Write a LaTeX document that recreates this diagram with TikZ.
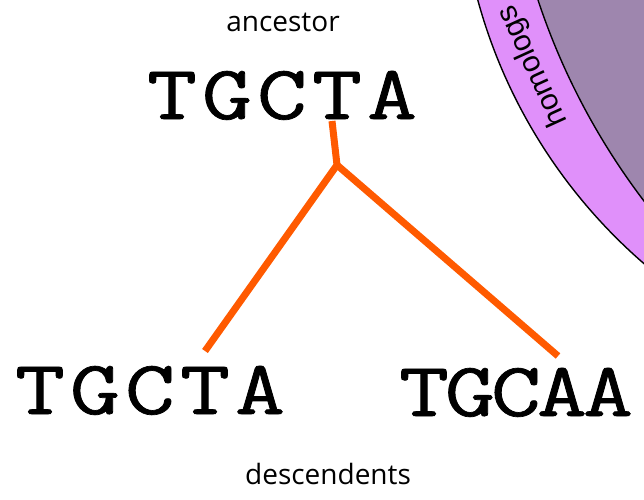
\documentclass[tikz,border=0pt]{standalone}
\usepackage{graphicx}
\usepackage{fontspec}
\setmainfont{Open Sans}
\newfontfamily\seqfont[FakeBold=0.9]{Latin Modern Mono}
\newfontfamily\ringfont{Liberation Sans}
\definecolor{ringpink}{HTML}{E090FA}
\definecolor{corepurple}{HTML}{9E86AE}
\definecolor{branch}{HTML}{FF5A00}
% letters of a sequence, widened and set on a fixed pitch
\newcommand{\pitched}[1]{\makebox[55pt]{\scalebox{1.26}[1]{#1}}}
\newcommand{\tight}[1]{\makebox[46pt]{\scalebox{1.26}[1]{#1}}}
\begin{document}
\begin{tikzpicture}[x=1pt,y=-1pt,
  seq/.style={font=\seqfont\fontsize{77}{79}\selectfont, inner sep=0pt, anchor=base},
  label/.style={font=\fontsize{28}{30}\selectfont, inner sep=0pt, anchor=base},
  edge/.style={draw=branch, line width=7pt},
  ringline/.style={draw=black, line width=1.4pt}]
\useasboundingbox (0,0) rectangle (644,499);
\fill[white] (0,0) rectangle (644,499);

% nested sets of sequences in the corner
\begin{scope}
  \clip (0,0) rectangle (644,499);
  \fill[ringpink, ringline] (994,-141) circle[radius=535];
  \fill[corepurple, ringline] (1196,-218) circle[radius=693];
\end{scope}
\node[font=\ringfont\fontsize{30}{32}\selectfont, rotate=114.5, inner sep=0pt] (homologs) at (533,66) {homologs};

% sequences
\node[label] (anc) at (283,31) {ancestor};
\node[seq] (root) at (282,119) {\pitched{T}\pitched{G}\pitched{C}\pitched{T}\pitched{A}};
\node[seq] (left) at (150,414) {\pitched{T}\pitched{G}\pitched{C}\pitched{T}\pitched{A}};
\node[seq] (right) at (516,416) {\tight{T}\tight{G}\tight{C}\tight{A}\tight{A}};
\node[label] (desc) at (328,484) {descendents};

% tree branches
\coordinate (stem) at (332,121);
\coordinate (fork) at (337,165);
\coordinate (lt) at (205,351);
\coordinate (rt) at (558,356);
\draw[edge] (stem) -- (fork);
\draw[edge] (fork) -- (lt);
\draw[edge] (fork) -- (rt);
\end{tikzpicture}
\end{document}
